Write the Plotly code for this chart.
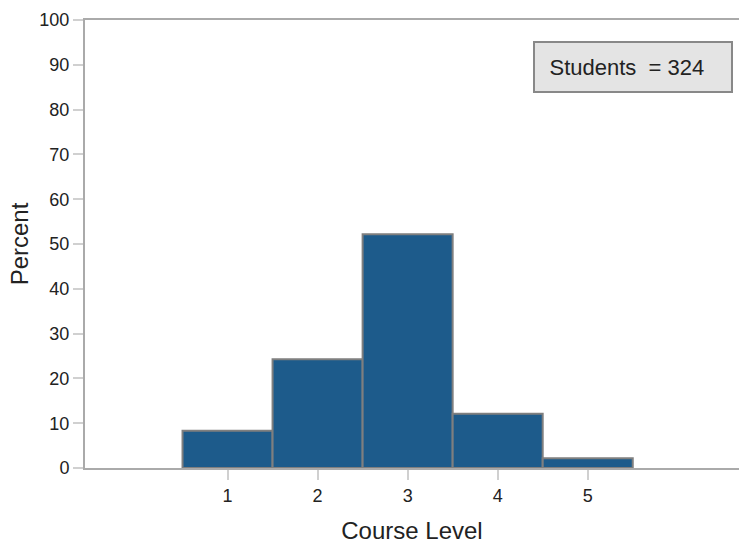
import plotly.graph_objects as go

levels = [1, 2, 3, 4, 5]
percent = [8.3, 24.3, 52.2, 12.1, 2.2]
y_ticks = [0, 10, 20, 30, 40, 50, 60, 70, 80, 90, 100]
n_students = 324

fig = go.Figure()
fig.add_trace(go.Bar(
    x=levels, y=percent, width=1,
    marker=dict(color="#1d5b8b", line=dict(color="#7f7f7f", width=2)),
    hoverinfo="skip",
))

font_family = "Liberation Sans, Arial, sans-serif"
fig.update_layout(
    width=739, height=544,
    margin=dict(l=85, r=0, t=20, b=76),
    plot_bgcolor="white", paper_bgcolor="white",
    showlegend=False,
    font=dict(family=font_family, color="#222222"),
    xaxis=dict(
        range=[-0.583, 6.68], tickvals=levels, ticktext=[str(v) for v in levels],
        showgrid=False, zeroline=False, automargin=False,
        showline=True, linecolor="#aaaaaa", linewidth=2, mirror=True,
        ticks="outside", ticklen=10, tickcolor="#d0d0d0", tickwidth=2,
        tickfont=dict(size=18, color="#222222"),
        title=dict(text="Course Level", font=dict(size=24, color="#222222"), standoff=21),
    ),
    yaxis=dict(
        range=[0, 100], tickvals=y_ticks,
        showgrid=False, zeroline=False, automargin=False,
        showline=True, linecolor="#aaaaaa", linewidth=2,
        ticks="outside", ticklen=10, tickcolor="#d0d0d0", tickwidth=2,
        tickfont=dict(size=18, color="#222222"),
        title=dict(text="Percent", font=dict(size=24, color="#222222"), standoff=4),
    ),
    annotations=[dict(
        text=f"Students  = {n_students}\u00a0\u00a0",
        xref="paper", yref="paper", x=0.838, y=0.896,
        xanchor="center", yanchor="middle", showarrow=False,
        font=dict(size=22, color="#222222", family=font_family),
        bgcolor="#e4e4e4", bordercolor="#888888", borderwidth=2, borderpad=2,
        width=192, height=44,
    )],
)

fig.write_html("out.html", config={"displayModeBar": False},
               post_script="document.body.style.margin='0px';")
